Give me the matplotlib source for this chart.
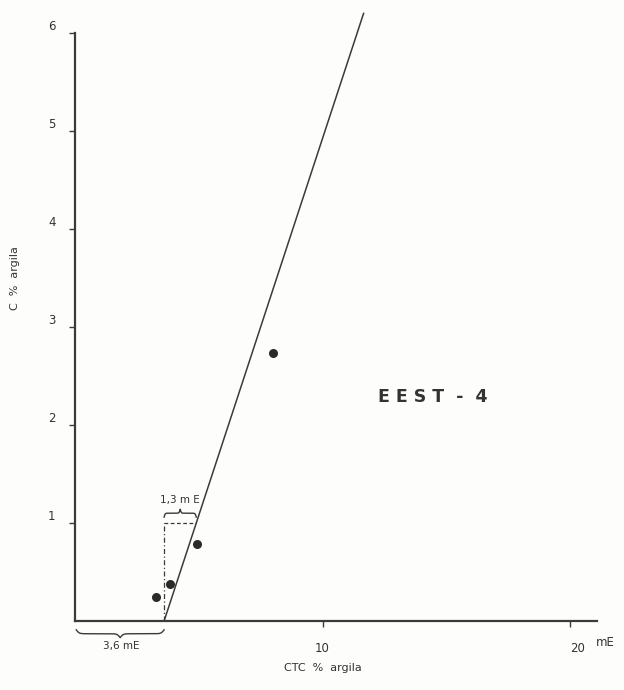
import numpy as np
import matplotlib
matplotlib.use("Agg")
import matplotlib.pyplot as plt

# Perfil EEST-4: CTC da argila contra C da argila
ctc_argila = [3.27, 3.83, 4.92, 7.98]   # mE
c_argila = [0.25, 0.38, 0.79, 2.73]     # %

ctc_intercepto = 3.6   # mE, CTC com C = 0
ctc_por_c = 1.3        # mE por 1 % de C
c_topo_reta = 6.2

x_ticks = [10, 20]
x_tick_labels = ["10", "20"]
y_ticks = [1, 2, 3, 4, 5, 6]

ink = "#3a3a3a"


def chave(ax, x0, x1, y, h, **kw):
    # chave horizontal entre x0 e x1, com a ponta em y + h
    n = 201
    span = x1 - x0
    beta = 60.0 / span
    xs = np.linspace(x0, x1, n)
    xh = xs[:n // 2 + 1]
    yh = 1 / (1 + np.exp(-beta * (xh - xh[0]))) + 1 / (1 + np.exp(-beta * (xh - xh[-1])))
    yy = np.concatenate((yh, yh[-2::-1]))
    ax.plot(xs, y + h * (yy - 0.5), clip_on=False, **kw)


fig = plt.figure(figsize=(6.24, 6.9), dpi=100)
fig.patch.set_facecolor("#fdfdfb")
ax = fig.add_axes([75 / 624, 69 / 690, 522 / 624, 588 / 690])
ax.set_facecolor("none")

ax.set_xlim(0, 522 / 24.75)
ax.set_ylim(0, 6)

for side in ("top", "right"):
    ax.spines[side].set_visible(False)
for side in ("left", "bottom"):
    ax.spines[side].set_linewidth(1.6)
    ax.spines[side].set_color(ink)

ax.set_xticks(x_ticks)
ax.set_xticklabels(x_tick_labels)
ax.set_yticks(y_ticks)
ax.set_yticklabels([str(v) for v in y_ticks])
ax.tick_params(axis="both", direction="out", length=4, width=1.0,
               colors=ink, labelsize=8.5, labelcolor="#333333")
ax.tick_params(axis="y", pad=10)
ax.tick_params(axis="x", pad=11)
for lab in ax.get_yticklabels():
    lab.set_verticalalignment("bottom")
ax.get_xticklabels()[1].set_horizontalalignment("left")

ax.text(21.05, -0.22, "mE", fontsize=8.5, color="#333333", ha="left", va="center")

# reta de ajuste
ys = np.array([0, c_topo_reta])
ax.plot(ctc_intercepto + ctc_por_c * ys, ys, color=ink, lw=1.1, clip_on=False)

# pontos
ax.plot(ctc_argila, c_argila, "o", ms=6.5, color="#2a2a2a", mec="none", zorder=5)

# triangulo tracejado em C = 1
ax.plot([ctc_intercepto, ctc_intercepto], [0, 1], color=ink, lw=0.9, ls=(0, (4, 2, 1, 2)))
ax.plot([ctc_intercepto, ctc_intercepto + ctc_por_c], [1, 1], color=ink, lw=0.9, ls=(0, (3, 2)))

chave(ax, ctc_intercepto, ctc_intercepto + ctc_por_c, 1.06, 0.08, color=ink, lw=1.0)
ax.text(ctc_intercepto + ctc_por_c / 2, 1.18, "1,3 m E", fontsize=7.5, color="#333333",
        ha="center", va="bottom")

chave(ax, 0.05, ctc_intercepto, -0.09, -0.08, color=ink, lw=1.0)
ax.text(ctc_intercepto / 2 + 0.05, -0.25, "3,6 mE", fontsize=7.5, color="#333333",
        ha="center", va="center")

ax.text(14.45, 2.29, "E E S T  -  4", fontsize=12.5, fontweight="bold", color="#333333",
        ha="center", va="center")

fig.text(323 / 624, 1 - 668 / 690, "CTC  %  argila", fontsize=8, color="#333333",
         ha="center", va="center")
fig.text(15 / 624, 1 - 278 / 690, "C  %  argila", fontsize=8, color="#333333",
         ha="center", va="center", rotation=90)

fig.savefig("out.png", dpi=100, facecolor=fig.get_facecolor())
